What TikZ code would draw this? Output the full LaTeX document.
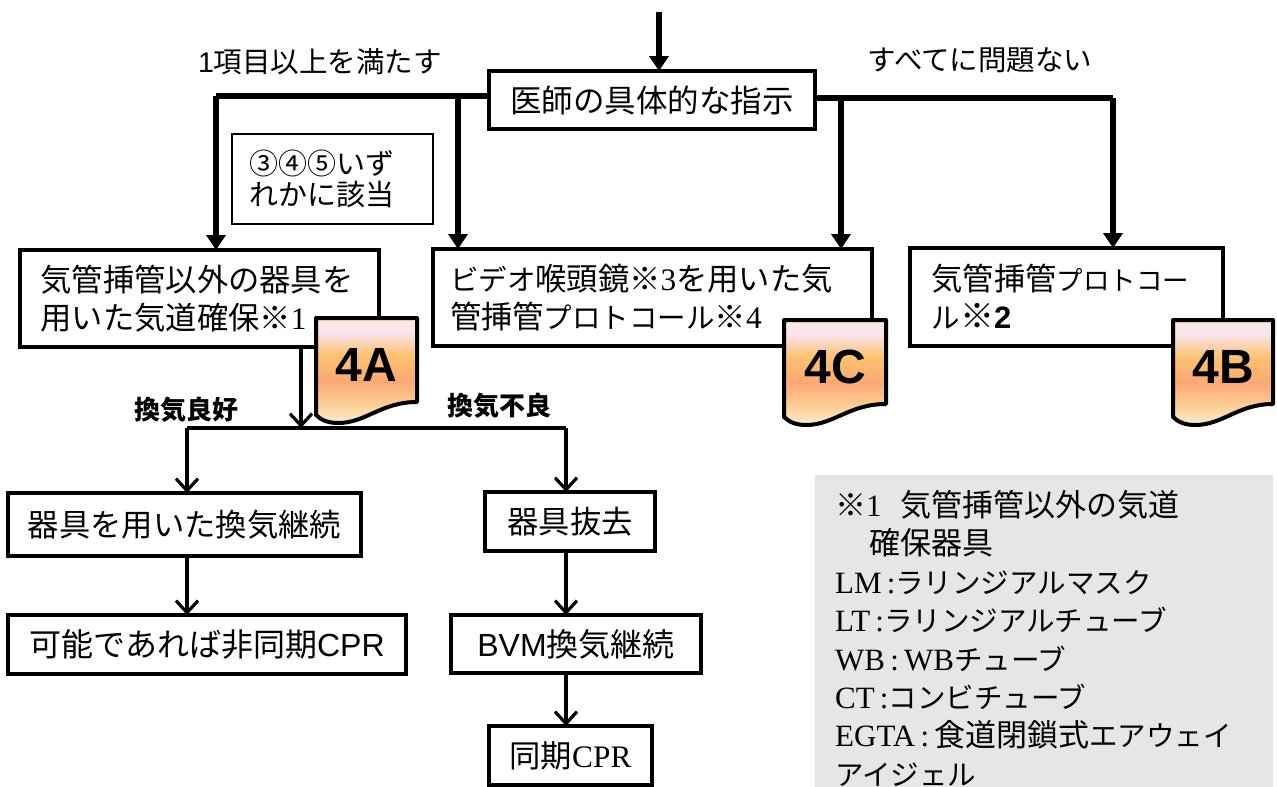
\documentclass[tikz,border=0pt]{standalone}
\usepackage{fontspec}
\setmainfont{Noto Sans CJK JP}
\newfontfamily\tms{Liberation Serif}
\newfontfamily\ari{Liberation Sans}
\usetikzlibrary{arrows.meta}
\definecolor{flaga}{rgb}{0.984,0.761,0.435}
\definecolor{flagb}{rgb}{0.984,0.659,0.455}
\definecolor{flagc}{rgb}{0.988,0.831,0.612}
\definecolor{flagd}{rgb}{0.984,0.922,0.855}
\definecolor{flage}{rgb}{0.976,0.890,0.933}
\definecolor{notegray}{rgb}{0.902,0.902,0.902}
\newcommand\kt[2][28.5]{{\fontsize{#1}{38}\selectfont #2}}
\tikzset{
  boxa/.style={draw,line width=4pt,fill=white,outer sep=0pt,inner xsep=0pt,inner ysep=0pt,align=left,font=\fontsize{31.3}{38}\selectfont},
  thickline/.style={line width=6pt},
  thickarrow/.style={line width=6pt,-{Triangle[length=15pt,width=19pt]}},
  thinarrow/.style={line width=3.2pt,-{Straight Barb[length=12pt,width=22pt,line width=3.2pt]}},
  toptext/.style={font=\fontsize{28.5}{34}\selectfont},
  boldtext/.style={font=\fontsize{26}{28}\selectfont\bfseries},
  flagline/.style={draw,line width=4pt,line join=round},
}
\begin{document}
\begin{tikzpicture}[x=1pt,y=-1pt]
\useasboundingbox (0,0) rectangle (1277,787);
% top row
\coordinate (start) at (659,12);
\node[boxa,minimum width=326pt,minimum height=58pt,text width=326pt,align=center] (doctor) at (652,100) {\fontsize{31.5}{38}\selectfont 医師の具体的な指示};
\node[boxa,minimum width=359pt,minimum height=97pt,text width=318pt] (airway) at (199.5,298.5) {気管挿管以外の器具を\\用いた気道確保※{\tms 1}};
\node[boxa,minimum width=439pt,minimum height=97pt,text width=405pt] (video) at (652.5,297.5) {\kt{ビデオ}喉頭鏡※{\tms 3}を用いた気\\管挿管\kt{プロトコール}※{\tms 4}};
\node[boxa,minimum width=313pt,minimum height=98pt,text width=270pt] (intub) at (1066.5,297) {気管挿管\kt[26.5]{プロトコー}\\\kt{ル}{\bfseries\fontsize{34}{38}\selectfont ※\ari\fontsize{31}{38}\selectfont 2}};
\node[draw,line width=1.5pt,minimum width=201pt,minimum height=90pt,text width=166pt,align=left,font=\fontsize{29}{31}\selectfont] (cond) at (332.5,179) {③④⑤いず\\れかに該当};
\node[toptext] (many) at (320,62) {{\ari 1}項目以上を満たす};
\node[toptext] (allok) at (980,60) {すべてに問題ない};
\coordinate (lefttop) at (216,96);
\coordinate (midtop) at (458,96);
\coordinate (righttop) at (841,98);
\coordinate (fartop) at (1113,98);
\draw[thickarrow] (start) -- (start |- doctor.north);
\draw[thickline] (doctor.west |- lefttop) -- (lefttop);
\draw[thickarrow] (lefttop) -- (lefttop |- airway.north);
\draw[thickarrow] (midtop) -- (midtop |- video.north);
\draw[thickline] (doctor.east |- righttop) -- (fartop);
\draw[thickarrow] (righttop) -- (righttop |- video.north);
\draw[thickarrow] (fartop) -- (fartop |- intub.north);
% lower part
\node[boxa,minimum width=353pt,minimum height=63pt,text width=353pt,align=center] (contin) at (184.5,524.5) {\raisebox{-4pt}{器具を用いた換気継続}};
\node[boxa,minimum width=398pt,minimum height=59pt,text width=398pt,align=center] (async) at (207,644.5) {\fontsize{32}{38}\selectfont 可能であれば非同期{\ari CPR}};
\node[boxa,minimum width=170pt,minimum height=59pt,text width=170pt,align=center] (remove) at (570,521.5) {\raisebox{-2pt}{器具抜去}};
\node[boxa,minimum width=250pt,minimum height=58pt,text width=250pt,align=center] (bvm) at (576,644) {\fontsize{32}{38}\selectfont{\ari BVM}換気継続};
\node[boxa,minimum width=163pt,minimum height=59pt,text width=163pt,align=center] (sync) at (570.5,755.5) {同期{\tms CPR}};
\node[boldtext] (good) at (186,410) {換気良好};
\node[boldtext] (bad) at (499,406) {換気不良};
\coordinate (split) at (301,428);
\coordinate (splitl) at (187,428);
\coordinate (splitr) at (566,428);
\draw[thinarrow] (split |- airway.south) -- (split);
\draw[line width=3.2pt] (splitl) -- (splitr);
\draw[thinarrow] (splitl) -- (splitl |- contin.north);
\draw[thinarrow] (splitr) -- (splitr |- remove.north);
\draw[thinarrow] (splitl |- contin.south) -- (splitl |- async.north);
\draw[thinarrow] (splitr |- remove.south) -- (splitr |- bvm.north);
\draw[thinarrow] (splitr |- bvm.south) -- (splitr |- sync.north);
% flags
\foreach \x/\y/\w/\t/\n in {316/318/101/4A/flagA,784/320/102/4C/flagC,1173/320/100/4B/flagB}{
  \begin{scope}[shift={(\x,\y)}]
  \begin{scope}
  \clip (0,0) -- (\w,0) -- (\w,84) .. controls (65,84) and (50,105) .. (22,105) .. controls (12,105) and (5,102) .. (0,97) -- cycle;
  \foreach \ya/\yb/\ca/\cb in {0/14/flagd/flage,14/37/flage/flaga,37/63/flaga/flagb,63/89/flagb/flagc,89/106/flagc/flagd}
    \shade[top color=\ca,bottom color=\cb] (0,\ya) rectangle (\w,\yb);
  \end{scope}
  \path[flagline] (0,0) -- (\w,0) -- (\w,84) .. controls (65,84) and (50,105) .. (22,105) .. controls (12,105) and (5,102) .. (0,97) -- cycle;
  \node[font=\fontsize{48}{48}\selectfont\ari\bfseries] (\n) at (\w/2,47) {\t};
  \end{scope}
}
% note
\node[fill=notegray,minimum width=458pt,minimum height=312pt,anchor=north west,inner sep=0pt] (note) at (815,475) {};
\node[anchor=north west,inner sep=0pt,align=left,font=\fontsize{31}{38.4}\selectfont] (notetext) at (835,490) {※{\tms 1}\hspace{19pt}気管挿管以外の気道\\
\hspace{34pt}確保器具\\
{\tms LM\,:}\kt{ラリンジアルマスク}\\
{\tms LT\,:}\kt{ラリンジアルチューブ}\\
{\tms WB\,:\,WB}\kt{チューブ}\\
{\tms CT\,:}\kt{コンビチューブ}\\
{\tms EGTA\,:\,}食道閉鎖式\kt{エアウェイ}\\
\kt{アイジェル}};
\end{tikzpicture}
\end{document}
